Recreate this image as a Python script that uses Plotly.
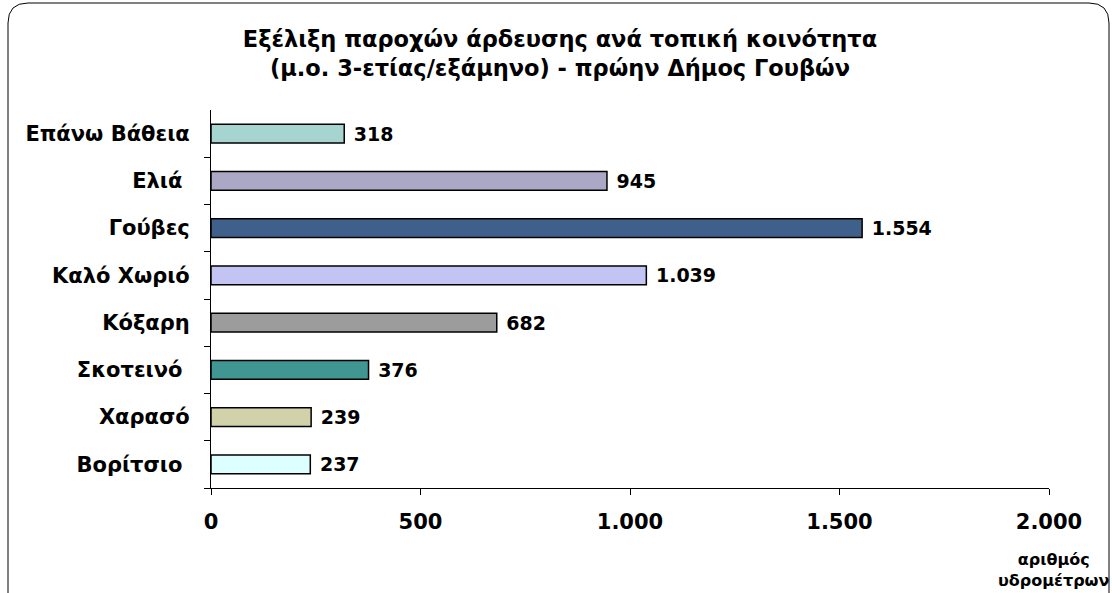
import plotly.graph_objects as go

# τοπικές κοινότητες (από πάνω προς τα κάτω)
communities = [
    "Επάνω Βάθεια", "Ελιά", "Γούβες", "Καλό Χωριό",
    "Κόξαρη", "Σκοτεινό", "Χαρασό", "Βορίτσιο",
]
# ετικέτες όπως στο πρωτότυπο (με τα κενά στο τέλος)
community_labels = [
    "Επάνω Βάθεια", "Ελιά\u00a0", "Γούβες", "Καλό Χωριό",
    "Κόξαρη", "Σκοτεινό\u00a0", "Χαρασό", "Βορίτσιο\u00a0",
]
meters = [318, 945, 1554, 1039, 682, 376, 239, 237]
bar_colors = [
    "#a6d4d0", "#aaa8c4", "#3f608b", "#c4c4f4",
    "#9c9c9c", "#3f9692", "#d2d2aa", "#ddffff",
]
x_ticks = [0, 500, 1000, 1500, 2000]

W, H = 1112, 593
L, R, T, B = 211, 63, 110, 105
PW, PH = W - L - R, H - T - B


def px_x(p):
    return (p - L) / PW


def px_y(p):
    return (H - B - p) / PH


fig = go.Figure()
fig.add_trace(go.Bar(
    y=communities,
    x=meters,
    orientation="h",
    width=0.4,
    marker={"color": bar_colors, "line": {"color": "#000000", "width": 1.5}},
    text=meters,
    texttemplate="\u00a0%{x:,}",
    textposition="outside",
    constraintext="none",
    cliponaxis=False,
    textfont={"family": "DejaVu Sans", "size": 19, "color": "#000000", "weight": "bold"},
    hoverinfo="skip",
))

# πλαίσιο με στρογγυλεμένες γωνίες
x0, x1 = px_x(8), px_x(1109)
y0, y1 = px_y(640), px_y(3)
rx, ry = 20 / PW, 20 / PH
frame = (
    f"M {x0},{y0} L {x0},{y1 - ry} Q {x0},{y1} {x0 + rx},{y1} "
    f"L {x1 - rx},{y1} Q {x1},{y1} {x1},{y1 - ry} L {x1},{y0}"
)

fig.update_layout(
    width=W,
    height=H,
    margin={"l": L, "r": R, "t": T, "b": B, "autoexpand": False},
    plot_bgcolor="#ffffff",
    paper_bgcolor="#ffffff",
    separators=",.",
    showlegend=False,
    font={"family": "DejaVu Sans", "color": "#000000"},
    title={
        "text": "Εξέλιξη παροχών άρδευσης ανά τοπική κοινότητα<br>(μ.ο. 3-ετίας/εξάμηνο) - πρώην Δήμος Γουβών",
        "x": 560 / W,
        "xanchor": "center",
        "y": 1 - 47 / H,
        "yanchor": "middle",
        "font": {"family": "DejaVu Sans", "size": 22.5, "weight": "bold"},
    },
    xaxis={
        "range": [0, 2000],
        "tickvals": x_ticks,
        "tickformat": ",d",
        "separatethousands": True,
        "showgrid": False,
        "zeroline": False,
        "showline": True,
        "linecolor": "#000000",
        "ticks": "outside",
        "ticklen": 6,
        "tickcolor": "#000000",
        "ticklabelstandoff": 9,
        "tickfont": {"family": "DejaVu Sans", "size": 21, "weight": "bold"},
        "fixedrange": True,
    },
    yaxis={
        "categoryorder": "array",
        "categoryarray": communities[::-1],
        "tickvals": communities,
        "ticktext": community_labels,
        "showgrid": False,
        "showline": True,
        "linecolor": "#000000",
        "ticks": "outside",
        "tickson": "boundaries",
        "ticklen": 6,
        "tickcolor": "#000000",
        "ticklabelstandoff": 16,
        "tickfont": {"family": "DejaVu Sans", "size": 21, "weight": "bold"},
        "fixedrange": True,
    },
    shapes=[{
        "type": "path",
        "xref": "paper",
        "yref": "paper",
        "path": frame,
        "line": {"color": "#000000", "width": 1},
        "layer": "below",
    }],
    annotations=[{
        "text": "αριθμός<br>υδρομέτρων",
        "xref": "paper",
        "yref": "paper",
        "x": px_x(1053),
        "y": px_y(570),
        "xanchor": "center",
        "yanchor": "middle",
        "showarrow": False,
        "font": {"family": "DejaVu Sans", "size": 16, "weight": "bold"},
    }],
)

fig.write_html(
    "out.html",
    config={"displayModeBar": False},
    post_script="document.body.style.margin='0';document.body.style.overflow='hidden';",
)
